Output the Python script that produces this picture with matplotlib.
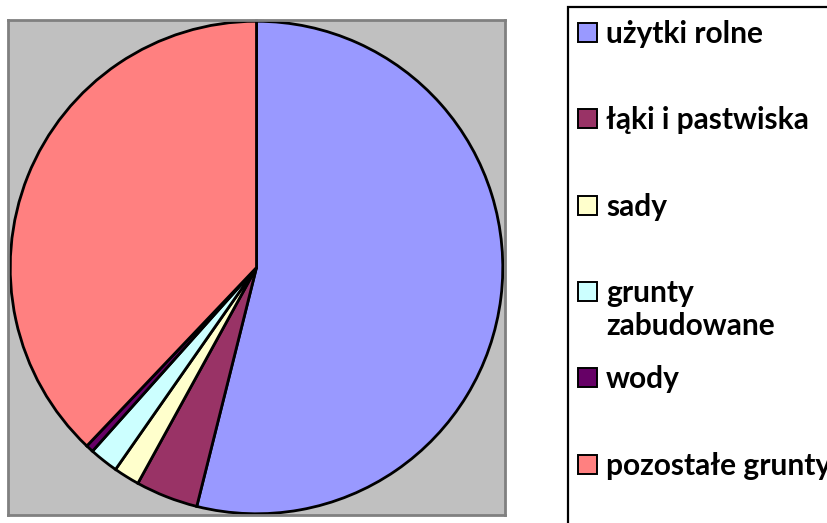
import matplotlib
matplotlib.use('Agg')
import matplotlib.pyplot as plt
from matplotlib.patches import Rectangle

# land use shares (%), clockwise from 12 o'clock
labels = ['użytki rolne', 'łąki i pastwiska', 'sady', 'grunty\nzabudowane', 'wody', 'pozostałe grunty']
shares = [53.9, 4.1, 1.7, 1.9, 0.5, 37.9]
colors = ['#9999FF', '#993366', '#FFFFCC', '#CCFFFF', '#660066', '#FF8080']

W, H = 827, 523
fig = plt.figure(figsize=(W / 100, H / 100), dpi=100)
fig.patch.set_facecolor('white')

def fx(px):
    return px / W

def fy(py):
    return 1 - py / H

# plot area
ax = fig.add_axes([fx(8), fy(515), fx(505) - fx(8), fy(20) - fy(515)])
ax.pie(shares, colors=colors, startangle=90, counterclock=False, radius=0.995,
       wedgeprops=dict(edgecolor='black', linewidth=2.0))
ax.set_frame_on(True)
ax.set_facecolor('#C0C0C0')
ax.set_aspect('auto')
ax.set_xlim(-1.004, 1.004)
ax.set_ylim(-1.0, 1.0)
ax.set_xticks([])
ax.set_yticks([])
for s in ax.spines.values():
    s.set_visible(True)
    s.set_color('#808080')
    s.set_linewidth(2)

# legend box (runs off the right and bottom edge like the original)
fig.add_artist(Rectangle((fx(568), -0.1), 1, fy(7) + 0.1, transform=fig.transFigure,
                         fill=False, edgecolor='black', linewidth=1.6, clip_on=False))

top_row = 32.5
pitch = 86.3
sq = 19
line_h = 33
for i, (lab, col) in enumerate(zip(labels, colors)):
    yc = top_row + i * pitch
    fig.add_artist(Rectangle((fx(578), fy(yc + sq / 2)), sq / W, sq / H,
                             transform=fig.transFigure, facecolor=col,
                             edgecolor='black', linewidth=1.4))
    for j, line in enumerate(lab.split('\n')):
        fig.text(fx(606), fy(yc + 10.5 + j * line_h), line, ha='left', va='baseline',
                 fontsize=21.5, fontweight='bold', family=['Lato', 'DejaVu Sans'])

fig.savefig('out.png', dpi=100)
